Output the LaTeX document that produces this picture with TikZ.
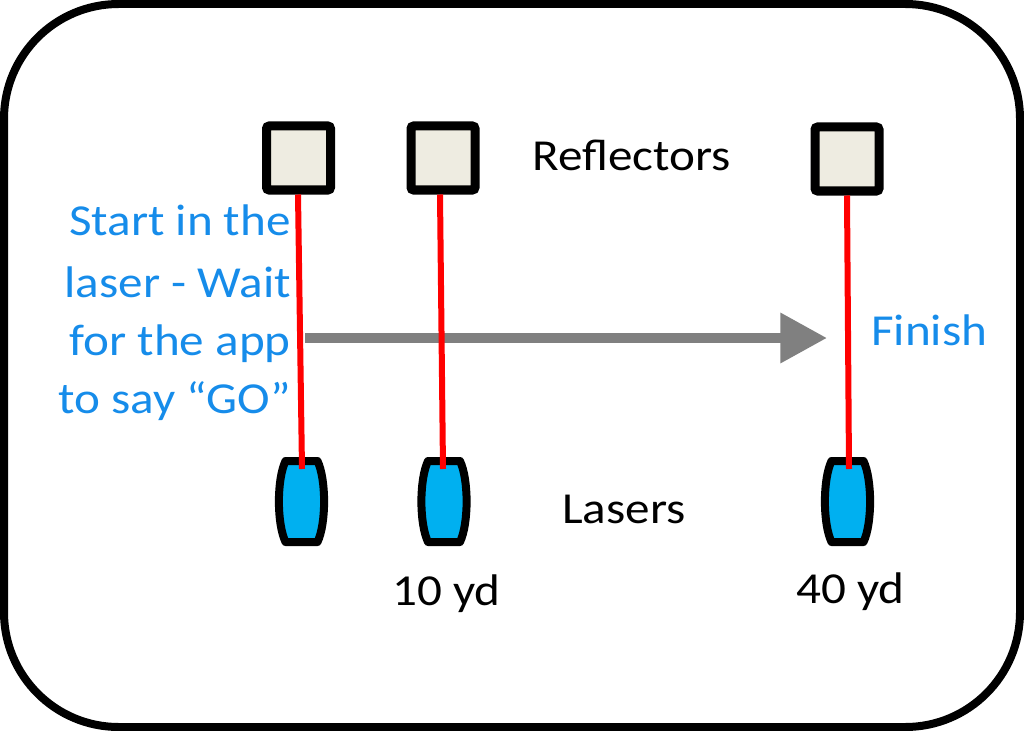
\documentclass[tikz,border=0pt]{standalone}
\usepackage{fontspec}
\setmainfont{Carlito}[FakeStretch=1.11]
\usetikzlibrary{arrows.meta,calc}
\definecolor{txtblue}{RGB}{22,140,234}
\definecolor{reflfill}{RGB}{238,236,225}
\definecolor{laserblue}{RGB}{0,176,240}
\definecolor{arrowgray}{RGB}{128,128,128}
\tikzset{
  reflbox/.style={draw=black, fill=reflfill, line width=6.75pt, rounded corners=2pt, minimum size=48pt, inner sep=0pt},
  laserbody/.style={draw=black, fill=laserblue, line width=6pt, line join=round},
  beam/.style={draw=red, line width=4.5pt},
  lbl/.style={font=\fontsize{33.2}{44.25}\selectfont, inner sep=0pt},
  frame/.style={draw=black, line width=6pt, rounded corners=86pt},
  runarrow/.style={draw=arrowgray, line width=7.5pt, -{Triangle[length=35pt,width=36pt]}},
  laser/.pic={
    \draw[laserbody] (-16,-40.5) -- (16,-40.5)
      .. controls (24.8,-22) and (24.8,22) .. (16,40.5)
      -- (-16,40.5)
      .. controls (-24.8,22) and (-24.8,-22) .. (-16,-40.5) -- cycle;
  }
}
\begin{document}
\begin{tikzpicture}[x=0.75pt,y=-0.75pt]
\useasboundingbox (0,0) rectangle (1024,731);
\draw[frame] (4,4) rectangle (1020,727);

% reflectors
\node[reflbox] (r1) at (298.5,158) {};
\node[reflbox] (r2) at (443,158) {};
\node[reflbox] (r3) at (847,159) {};

% lasers
\coordinate (l1) at (301.5,501.5);
\coordinate (l2) at (444,501.5);
\coordinate (l3) at (847.5,501.5);
\pic at (l1) {laser};
\pic at (l2) {laser};
\pic at (l3) {laser};

% beam end points
\coordinate (b1) at (302,469);
\coordinate (b2) at (443,469);
\coordinate (b3) at (849,469);

% run arrow
\coordinate (as) at (305,338);
\coordinate (ae) at (827,338);
\draw[runarrow] (as) -- (ae);

% beams
\draw[beam] ($(r1.south)+(-0.5,0)$) -- (b1);
\draw[beam] ($(r2.south)+(-3,0)$) -- (b2);
\draw[beam] (r3.south) -- (b3);

% labels
\node[lbl, anchor=base west] (treflectors) at (532,171) {Reflectors};
\node[lbl, anchor=base west] (tlasers) at (562,523) {Lasers};
\node[lbl, anchor=base west] (t10) at (392,605) {10 yd};
\node[lbl, anchor=base west] (t40) at (796,603) {40 yd};
\node[lbl, anchor=base west, text=txtblue] (tfinish) at (871,345) {Finish};
\node[lbl, anchor=base east, text=txtblue] (tstart1) at (291,235) {Start in the};
\node[lbl, anchor=base east, text=txtblue] (tstart2) at (291,297) {laser - Wait};
\node[lbl, anchor=base east, text=txtblue] (tstart3) at (291,355) {for the app};
\node[lbl, anchor=base east, text=txtblue] (tstart4) at (291,413) {to say “GO”};
\end{tikzpicture}
\end{document}
